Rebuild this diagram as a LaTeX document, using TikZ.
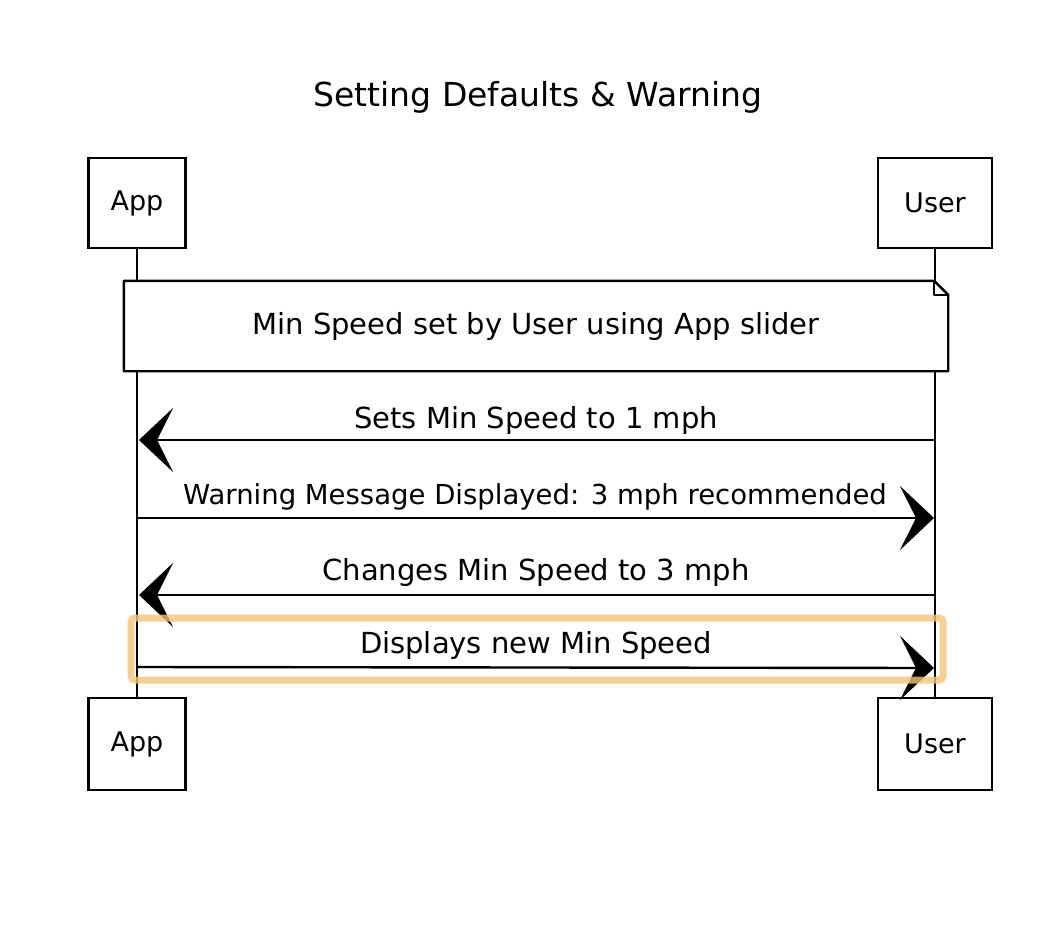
\documentclass[tikz,border=0pt]{standalone}
\usepackage{fontspec}
\setmainfont{DejaVu Sans}
\usetikzlibrary{arrows.meta}
\definecolor{hlorange}{HTML}{F4C37A}
\begin{document}
\begin{tikzpicture}[x=1pt,y=-1pt,
  actor/.style={draw, line width=2.4pt, minimum height=90pt, inner sep=0pt,
    font=\fontsize{27}{29}\selectfont},
  lbl/.style={font=\fontsize{29}{32}\selectfont, inner sep=0pt},
  life/.style={line width=1.8pt},
  notebox/.style={minimum width=824pt, minimum height=90pt, inner sep=0pt,
    font=\fontsize{29}{32}\selectfont},
  msg/.style={line width=2.4pt, -{Stealth[length=34pt,width=64pt,inset=16pt]}},
  hl/.style={draw=hlorange, draw opacity=0.8, line width=7pt, rounded corners=4pt}]
\fill[white] (0,0) rectangle (1062,928);
\useasboundingbox (0,0) rectangle (1062,928);

% title
\node[lbl, font=\fontsize{33}{36}\selectfont] (title) at (538,97) {Setting Defaults \& Warning};

% actors
\node[actor, minimum width=97pt] (apptop) at (137,203) {App};
\node[actor, minimum width=114pt] (usertop) at (935,203) {User};
\node[actor, minimum width=97pt, minimum height=92pt] (appbot) at (137,744) {App};
\node[actor, minimum width=114pt, minimum height=92pt] (userbot) at (935,744) {User};

% note
\node[notebox] (note) at (536,326) {Min Speed set by User using App slider};
\draw[line width=2.4pt, line join=round]
  (note.north west) -- ([xshift=-14pt]note.north east)
  -- ([yshift=-14pt]note.north east) -- (note.south east)
  -- (note.south west) -- cycle;
\draw[line width=1.8pt, line join=round]
  ([xshift=-14pt]note.north east) -- ([xshift=-14pt,yshift=-14pt]note.north east)
  -- ([yshift=-14pt]note.north east);

% lifelines
\draw[life] (apptop.south) -- (apptop.south |- note.north);
\draw[life] (usertop.south) -- (usertop.south |- note.north);
\draw[life] (appbot.north |- note.south) -- (appbot.north);
\draw[life] (userbot.north |- note.south) -- (userbot.north);

% message end points on the lifelines
\coordinate (u1) at (935,440); \coordinate (a1) at (139,440);
\coordinate (a2) at (138,518); \coordinate (u2) at (934,518);
\coordinate (u3) at (935,595); \coordinate (a3) at (139,595);
\coordinate (a4) at (138,667); \coordinate (u4) at (934,668);

% messages
\draw[msg] (u1) -- (a1);
\node[lbl] (l1) at (536,420) {Sets Min Speed to 1 mph};
\draw[msg] (a2) -- (u2);
\node[lbl, font=\fontsize{27.5}{30}\selectfont] (l2) at (535,497) {Warning Message Displayed: 3 mph recommended};
\draw[msg] (u3) -- (a3);
\node[lbl] (l3) at (536,572) {Changes Min Speed to 3 mph};
\draw[msg] (a4) -- (u4);
\node[lbl] (l4) at (536,645) {Displays new Min Speed};

% highlight
\draw[hl] (131,618) rectangle (943,680);
\end{tikzpicture}
\end{document}
